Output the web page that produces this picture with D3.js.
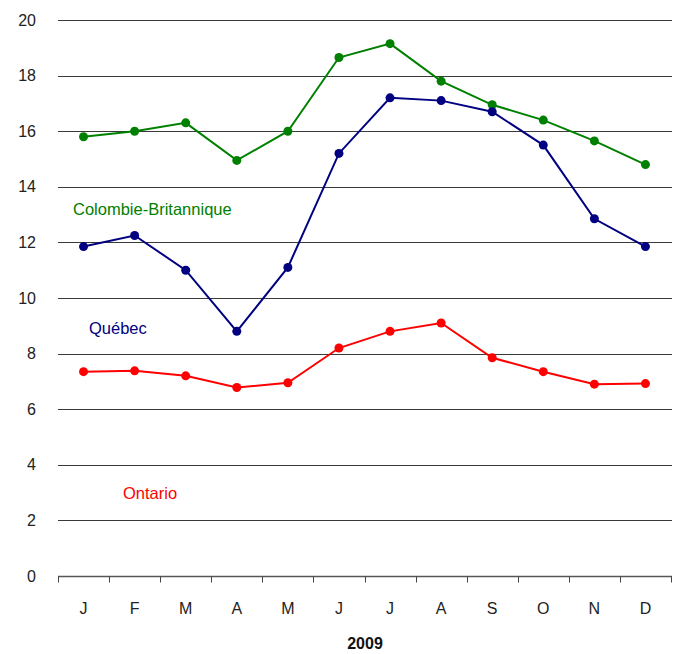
<!DOCTYPE html>
<html>
<head>
<meta charset="utf-8">
<script src="https://cdn.jsdelivr.net/npm/d3@7"></script>
<style>
  body { margin: 0; background: #fff; }
  text { font-family: "Liberation Sans Narrow", "Arial Narrow", "Liberation Sans", sans-serif; }
</style>
</head>
<body>
<div id="chart"></div>
<script>
// months and series values
var months = ["J", "F", "M", "A", "M", "J", "J", "A", "S", "O", "N", "D"];
var colombie = [15.8, 16.0, 16.3, 14.95, 16.0, 18.65, 19.15, 17.8, 16.95, 16.4, 15.65, 14.8];
var quebec = [11.85, 12.25, 11.0, 8.8, 11.1, 15.2, 17.2, 17.1, 16.7, 15.5, 12.85, 11.85];
var ontario = [7.35, 7.38, 7.2, 6.78, 6.95, 8.2, 8.8, 9.1, 7.85, 7.35, 6.9, 6.92];
var yTicks = [0, 2, 4, 6, 8, 10, 12, 14, 16, 18, 20];

var series = [
  {name: "Colombie-Britannique", values: colombie, color: "#008000", lx: 73, ly: 13.0},
  {name: "Québec", values: quebec, color: "#000080", lx: 89, ly: 8.7},
  {name: "Ontario", values: ontario, color: "#ff0000", lx: 123, ly: 2.77}
];

var margin = {top: 20, right: 4, bottom: 78, left: 58},
    width = 676 - margin.left - margin.right,
    height = 654 - margin.top - margin.bottom;

var svg = d3.select("#chart")
  .append("svg")
    .attr("width", 676)
    .attr("height", 654)
  .append("g")
    .attr("transform", "translate(" + margin.left + "," + margin.top + ")");

var x = d3.scaleBand()
  .domain(d3.range(months.length))
  .range([0, 613]);

var y = d3.scaleLinear()
  .domain([0, 20])
  .range([height, 0]);

// gridlines
svg.selectAll(".grid")
  .data(yTicks.filter(function(d) { return d > 0; }))
  .enter().append("line")
    .attr("x1", 0)
    .attr("x2", 614)
    .attr("y1", function(d) { return Math.round(y(d)) + 0.5; })
    .attr("y2", function(d) { return Math.round(y(d)) + 0.5; })
    .attr("stroke", "#3a3a3a")
    .attr("stroke-width", 1);

// y labels
svg.selectAll(".ylab")
  .data(yTicks)
  .enter().append("text")
    .attr("x", -22)
    .attr("y", function(d) { return y(d); })
    .attr("dy", "0.35em")
    .attr("text-anchor", "end")
    .attr("font-size", 16)
    .attr("fill", "#222")
    .text(function(d) { return d; });

// x axis
var xAxis = svg.append("g")
  .attr("transform", "translate(0," + (Math.round(height) + 0.5) + ")");
xAxis.append("line")
  .attr("x1", 0).attr("x2", 614)
  .attr("stroke", "#555").attr("stroke-width", 1.5);
xAxis.selectAll(".tick")
  .data(d3.range(months.length + 1))
  .enter().append("line")
    .attr("x1", function(d) { return Math.round(d * x.step()) + 0.5; })
    .attr("x2", function(d) { return Math.round(d * x.step()) + 0.5; })
    .attr("y1", 0).attr("y2", 6)
    .attr("stroke", "#444").attr("stroke-width", 1);
xAxis.selectAll(".mlab")
  .data(months)
  .enter().append("text")
    .attr("x", function(d, i) { return x(i) + x.bandwidth() / 2; })
    .attr("y", 37)
    .attr("text-anchor", "middle")
    .attr("font-size", 16)
    .attr("fill", "#222")
    .text(function(d) { return d; });

xAxis.append("text")
  .attr("x", 307)
  .attr("y", 72)
  .attr("text-anchor", "middle")
  .attr("font-size", 16)
  .attr("font-weight", "bold")
  .attr("fill", "#111")
  .text("2009");

// lines and dots
var line = d3.line()
  .x(function(d, i) { return x(i) + x.bandwidth() / 2; })
  .y(function(d) { return y(d); });

series.forEach(function(s) {
  svg.append("path")
    .datum(s.values)
    .attr("fill", "none")
    .attr("stroke", s.color)
    .attr("stroke-width", 2)
    .attr("d", line);
  svg.selectAll(null)
    .data(s.values)
    .enter().append("circle")
      .attr("cx", function(d, i) { return x(i) + x.bandwidth() / 2; })
      .attr("cy", function(d) { return y(d); })
      .attr("r", 4.5)
      .attr("fill", s.color);
  svg.append("text")
    .attr("x", s.lx - margin.left)
    .attr("y", y(s.ly))
    .attr("font-size", 16.5)
    .attr("fill", s.color)
    .text(s.name);
});
</script>
</body>
</html>
